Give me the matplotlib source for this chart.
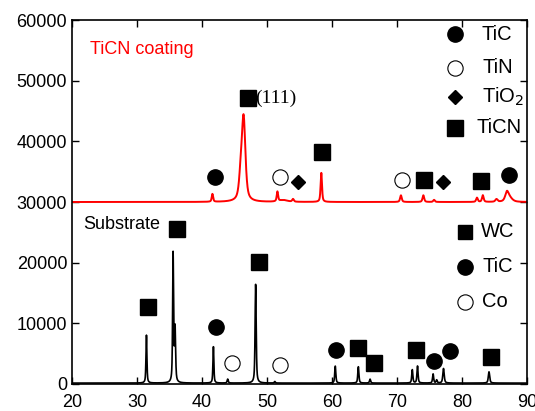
import numpy as np
import matplotlib
matplotlib.use('Agg')
import matplotlib.pyplot as plt

plt.rcParams['font.family'] = ['Liberation Sans', 'DejaVu Sans']

# пики покрытия TiCN (положение, высота над фоном, ширина FWHM)
coat_base = 30000
coat_pos = [41.6, 45.95, 46.4, 51.6, 52.5, 54.0, 58.35, 70.6, 74.05, 75.7, 82.3, 83.2, 85.3, 86.9, 87.3]
coat_h = [1300, 3500, 13500, 1600, 300, 450, 4800, 1100, 1100, 350, 700, 1100, 450, 1400, 700]
coat_w = [0.25, 0.6, 0.65, 0.25, 1.5, 0.3, 0.25, 0.3, 0.3, 0.3, 0.3, 0.3, 0.4, 0.6, 1.0]

# пики подложки
sub_base = 150
sub_pos = [31.45, 35.55, 35.85, 41.75, 43.95, 48.25, 51.2, 60.5, 64.05, 65.85, 72.35, 73.15, 75.55, 76.1, 77.15, 84.15]
sub_h = [7900, 21200, 8800, 6000, 650, 16300, 250, 2800, 2700, 650, 2200, 2800, 1500, 500, 2400, 1850]
sub_w = [0.17, 0.17, 0.2, 0.17, 0.2, 0.2, 0.2, 0.2, 0.2, 0.2, 0.2, 0.2, 0.2, 0.2, 0.25, 0.25]

# маркеры фаз покрытия
coat_tic_x = [42.05, 87.2]
coat_tic_y = [34170, 34450]
coat_tin_x = [51.95, 70.8]
coat_tin_y = [34170, 33630]
coat_tio2_x = [54.7, 77.0]
coat_tio2_y = [33350, 33300]
coat_ticn_x = [47.0, 58.5, 74.1, 82.9]
coat_ticn_y = [47090, 38190, 33630, 33460]

# маркеры фаз подложки
sub_wc_x = [31.75, 36.2, 48.7, 64.05, 66.45, 72.9, 84.4]
sub_wc_y = [12640, 25500, 20170, 5880, 3400, 5600, 4500]
sub_tic_x = [42.1, 60.6, 75.65, 78.2]
sub_tic_y = [9450, 5600, 3850, 5500]
sub_co_x = [44.6, 52.0]
sub_co_y = [3400, 3130]


def profile(x, base, pos, h, w):
    y = np.full_like(x, base, dtype=float)
    for p, a, fw in zip(pos, h, w):
        g = (x - p) / (fw / 2)
        y += a * (0.6 / (1 + g ** 2) + 0.4 * np.exp(-np.log(2) * g ** 2))
    return y


x = np.linspace(20, 90, 7000)
y_coat = profile(x, coat_base, coat_pos, coat_h, coat_w)
y_sub = profile(x, sub_base, sub_pos, sub_h, sub_w)

fig = plt.figure(figsize=(5.35, 4.11), dpi=100)
ax = fig.add_axes([0.1346, 0.0657, 0.8505, 0.8856])

ax.plot(x, y_coat, color='red', lw=1.4)
ax.plot(x, y_sub, color='black', lw=1.2)

ms = 11
ax.plot(coat_tic_x, coat_tic_y, 'o', color='black', ms=ms, ls='none')
ax.plot(coat_tin_x, coat_tin_y, 'o', mfc='white', mec='black', mew=0.8, ms=ms, ls='none')
ax.plot(coat_tio2_x, coat_tio2_y, 'D', color='black', ms=7.5, ls='none')
ax.plot(coat_ticn_x, coat_ticn_y, 's', color='black', ms=ms, ls='none')
ax.plot(sub_wc_x, sub_wc_y, 's', color='black', ms=ms, ls='none')
ax.plot(sub_tic_x, sub_tic_y, 'o', color='black', ms=ms, ls='none')
ax.plot(sub_co_x, sub_co_y, 'o', mfc='white', mec='black', mew=0.8, ms=ms, ls='none')

ax.text(48.1, 47090, '(111)', family=['Liberation Serif'], fontsize=14, va='center', ha='left')

# легенды вручную
fs_leg = 14.5
leg_x = 78.9
ax.plot(leg_x, 57640, 'o', color='black', ms=ms)
ax.text(83.0, 57640, 'TiC', fontsize=fs_leg, va='center', ha='left')
ax.plot(leg_x, 52140, 'o', mfc='white', mec='black', mew=0.8, ms=ms)
ax.text(83.2, 52140, 'TiN', fontsize=fs_leg, va='center', ha='left')
ax.plot(leg_x, 47260, 'D', color='black', ms=7.5)
ax.text(83.0, 47260, 'TiO$_2$', fontsize=fs_leg, va='center', ha='left')
ax.plot(leg_x, 42250, 's', color='black', ms=ms)
ax.text(82.3, 42250, 'TiCN', fontsize=fs_leg, va='center', ha='left')

leg2_x = 80.4
ax.plot(leg2_x, 25120, 's', color='black', ms=10)
ax.text(82.9, 25120, 'WC', fontsize=fs_leg, va='center', ha='left')
ax.plot(leg2_x, 19330, 'o', color='black', ms=ms)
ax.text(83.1, 19330, 'TiC', fontsize=fs_leg, va='center', ha='left')
ax.plot(leg2_x, 13570, 'o', mfc='white', mec='black', mew=0.8, ms=ms)
ax.text(83.1, 13570, 'Co', fontsize=fs_leg, va='center', ha='left')

ax.text(22.8, 55200, 'TiCN coating', color='red', fontsize=13, va='center', ha='left')
ax.text(21.7, 26300, 'Substrate', color='black', fontsize=13, va='center', ha='left')

ax.set_xlim(20, 90)
ax.set_ylim(0, 60000)
ax.set_xticks(np.arange(20, 91, 10))
ax.set_yticks(np.arange(0, 60001, 10000))
ax.tick_params(direction='in', top=True, right=True, length=5, width=1, labelsize=13)
ax.tick_params(axis='x', pad=7)
for s in ax.spines.values():
    s.set_linewidth(1.2)

fig.savefig('out.png', dpi=100)
